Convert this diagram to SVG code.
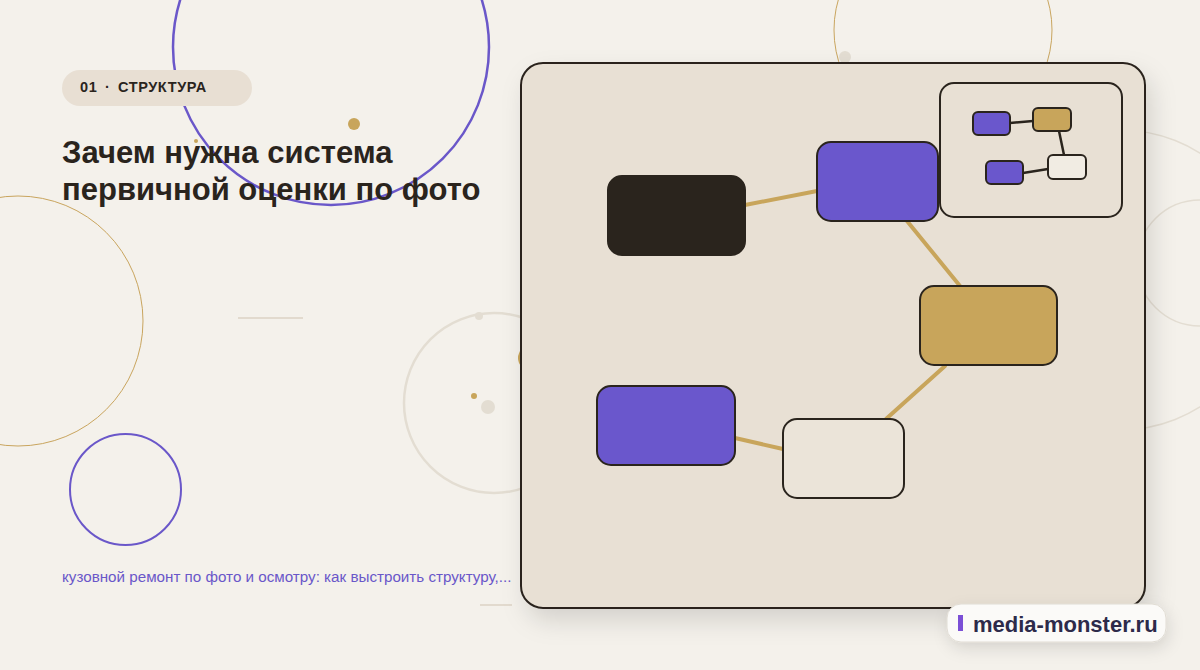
<svg xmlns="http://www.w3.org/2000/svg" width="1200" height="670" viewBox="0 0 1200 670">
<defs>
<style>
.node{stroke:#2a241d;stroke-width:2}
.edge{stroke:#c8a55b;stroke-width:4;stroke-linecap:round;fill:none}
.medge{stroke:#2a241d;stroke-width:2.5;fill:none}
.title{font-family:"Liberation Sans",Arial,sans-serif;font-weight:700;font-size:31px;fill:#2a241d}
.tag{font-family:"Liberation Sans",Arial,sans-serif;font-weight:700;font-size:14.5px;fill:#2a241d;letter-spacing:0.6px}
</style>
<filter id="sh" x="-10%" y="-10%" width="130%" height="130%">
<feDropShadow dx="6" dy="12" stdDeviation="12" flood-color="#000" flood-opacity="0.13"/>
</filter>
<filter id="sh2" x="-20%" y="-40%" width="140%" height="200%">
<feDropShadow dx="2" dy="6" stdDeviation="8" flood-color="#000" flood-opacity="0.12"/>
</filter>
</defs>
<rect width="1200" height="670" fill="#f4f1eb"/>
<g id="background">
<circle cx="331" cy="47" r="158" fill="none" stroke="#6a57c9" stroke-width="2.5"/>
<circle cx="354" cy="124" r="6" fill="#c8a55b"/>
<circle cx="196" cy="141" r="2" fill="#c8a55b"/>
<circle cx="18" cy="321" r="125" fill="none" stroke="#c9a55e" stroke-width="1"/>
<line x1="238" y1="318" x2="303" y2="318" stroke="#e2dace" stroke-width="2"/>
<circle cx="125.5" cy="489.5" r="55.5" fill="none" stroke="#6a57c9" stroke-width="2"/>
<circle cx="494" cy="403" r="90" fill="none" stroke="#e3ddd2" stroke-width="2.5"/>
<circle cx="479" cy="316" r="4" fill="#e3ddd2"/>
<circle cx="474" cy="396" r="3" fill="#c8a55b"/>
<circle cx="488" cy="407" r="7" fill="#e3ddd2"/>
<circle cx="530" cy="358" r="12" fill="#c8a55b"/>
<line x1="480" y1="605" x2="512" y2="605" stroke="#e2dace" stroke-width="2"/>
<circle cx="943" cy="30" r="109" fill="none" stroke="#c9a55e" stroke-width="1"/>
<circle cx="845" cy="57" r="6" fill="#e3ddd2"/>
<circle cx="1120" cy="280" r="150" fill="none" stroke="#e3ddd2" stroke-width="1.5"/>
<circle cx="1200" cy="263" r="63" fill="none" stroke="#e3ddd2" stroke-width="1.5"/>
</g>
<g id="tag">
<rect x="62" y="70" width="190" height="36" rx="18" fill="#e8dfd3"/>
<text class="tag" x="80" y="92">01</text>
<text class="tag" x="105" y="92">·</text>
<text class="tag" x="118" y="92">СТРУКТУРА</text>
</g>
<g id="title">
<text class="title" x="62" y="163">Зачем нужна система</text>
<text class="title" x="62" y="200">первичной оценки по фото</text>
</g>
<g id="subtitle">
<text x="62" y="582" font-family="Liberation Sans, Arial, sans-serif" font-size="15.2" fill="#6a57c9">кузовной ремонт по фото и осмотру: как выстроить структуру,...</text>
</g>
<g id="panel">
<rect x="521" y="63" width="624" height="545" rx="22" fill="#e8e0d4" stroke="#2a241d" stroke-width="2" filter="url(#sh)"/>
</g>
<g id="minimap-frame">
<rect x="940" y="83" width="182" height="134" rx="14" fill="#e8e0d4" stroke="#2a241d" stroke-width="2"/>
</g>
<g id="connectors">
<line class="edge" x1="745" y1="205" x2="817" y2="191"/>
<line class="edge" x1="907" y1="221" x2="960" y2="286"/>
<line class="edge" x1="945" y1="366" x2="886" y2="419"/>
<line class="edge" x1="735" y1="438" x2="783" y2="449"/>
<line class="medge" x1="1010" y1="123" x2="1033" y2="121"/>
<line class="medge" x1="1059" y1="131" x2="1064" y2="155"/>
<line class="medge" x1="1023" y1="173" x2="1048" y2="169"/>
</g>
<g id="node-black"><rect class="node" x="608" y="176" width="137" height="79" rx="14" fill="#2a241d"/></g>
<g id="node-purple-1"><rect class="node" x="817" y="142" width="121" height="79" rx="14" fill="#6a57cc"/></g>
<g id="node-gold"><rect class="node" x="920" y="286" width="137" height="79" rx="14" fill="#c8a55b"/></g>
<g id="node-purple-2"><rect class="node" x="597" y="386" width="138" height="79" rx="14" fill="#6a57cc"/></g>
<g id="node-light"><rect class="node" x="783" y="419" width="121" height="79" rx="14" fill="#ebe4d9"/></g>
<g id="mini-purple-1"><rect class="node" x="973" y="112" width="37" height="23" rx="5" fill="#6a57cc"/></g>
<g id="mini-gold"><rect class="node" x="1033" y="108" width="38" height="23" rx="5" fill="#c8a55b"/></g>
<g id="mini-purple-2"><rect class="node" x="986" y="161" width="37" height="23" rx="5" fill="#6a57cc"/></g>
<g id="mini-light"><rect class="node" x="1048" y="155" width="38" height="24" rx="5" fill="#f1ece3"/></g>
<g id="watermark">
<rect x="947" y="604" width="219" height="38" rx="14" fill="#fbfaf8" stroke="#e0dcd4" stroke-width="1" filter="url(#sh2)"/>
<rect x="958" y="615" width="5" height="16" fill="#7b4fd6"/>
<text x="973" y="632" font-family="Liberation Sans, Arial, sans-serif" font-weight="700" font-size="22" fill="#2d2a4a">media-monster.ru</text>
</g>
</svg>
